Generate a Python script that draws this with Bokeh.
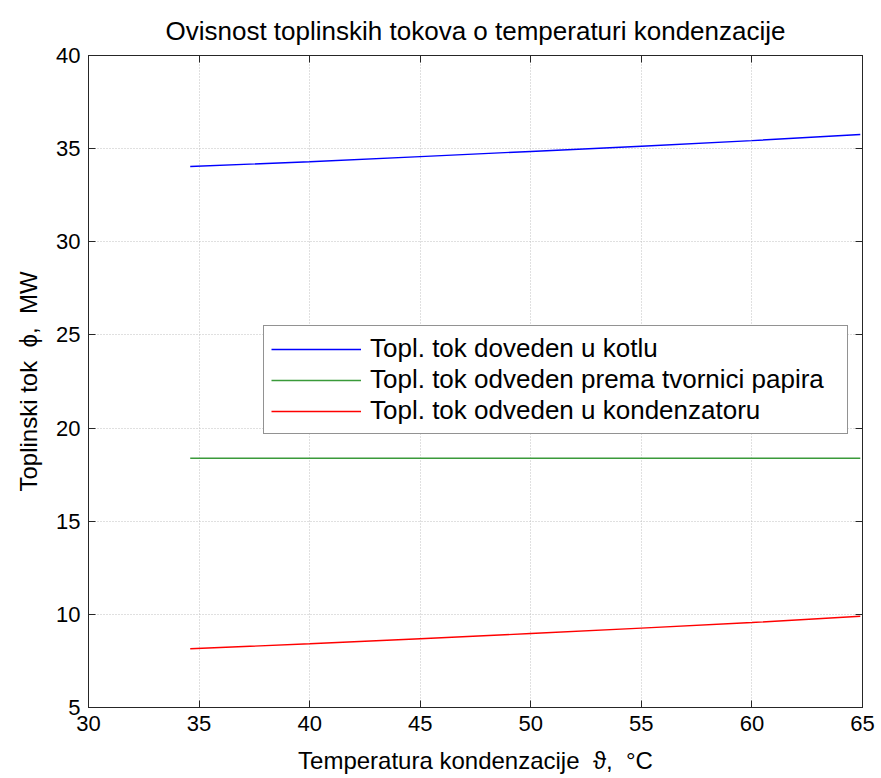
from bokeh.plotting import figure
from bokeh.models import FixedTicker, LinearAxis, Range1d, Legend, LegendItem
from bokeh.embed import file_html
from bokeh.resources import INLINE

# Data
temp = [34.6, 40, 45, 50, 55, 60, 64.9]
dovedeno_kotao = [34.04, 34.30, 34.57, 34.85, 35.13, 35.43, 35.76]
odvedeno_papir = [18.38, 18.38, 18.38, 18.38, 18.38, 18.38, 18.38]
odvedeno_kondenzator = [8.15, 8.42, 8.69, 8.97, 9.26, 9.56, 9.90]

x_ticks = [30, 35, 40, 45, 50, 55, 60, 65]
y_ticks = [5, 10, 15, 20, 25, 30, 35, 40]

title = "Ovisnost toplinskih tokova o temperaturi kondenzacije"
x_label = "Temperatura kondenzacije\u00a0\u00a0\u03d1,\u00a0\u00a0\u00b0C"
y_label = "Toplinski tok\u00a0\u00a0\u03d5,\u00a0\u00a0MW"
labels = ["Topl. tok doveden u kotlu",
          "Topl. tok odveden prema tvornici papira",
          "Topl. tok odveden u kondenzatoru"]
colors = ["#0000ff", "#3a9a3a", "#ff0000"]

FONT = "Liberation Sans"
AXC = "#262626"

p = figure(width=878, height=778, output_backend="svg", toolbar_location=None,
           x_range=Range1d(30, 65), y_range=Range1d(5, 40),
           min_border_left=88, min_border_right=16, min_border_top=55, min_border_bottom=71)

p.title.text = title
p.title.align = "center"
p.title.text_font = FONT
p.title.text_font_size = "26px"
p.title.text_font_style = "normal"
p.title.text_color = "black"
p.title.text_line_height = 1.0
p.title.offset = 0
p.title.standoff = 20

p.outline_line_color = AXC
p.outline_line_width = 1
p.background_fill_color = "white"
p.border_fill_color = "white"

for ax in (p.xaxis[0], p.yaxis[0]):
    ax.major_label_text_font = FONT
    ax.major_label_text_font_size = "22px"
    ax.major_label_text_color = "black"
    ax.axis_label_text_font = FONT
    ax.axis_label_text_font_size = "24px"
    ax.axis_label_text_font_style = "normal"
    ax.axis_label_text_color = "black"
    ax.axis_line_color = AXC
    ax.major_tick_in = 7
    ax.major_tick_out = 0
    ax.major_tick_line_color = AXC
    ax.minor_tick_line_color = None

p.xaxis[0].ticker = FixedTicker(ticks=x_ticks)
p.yaxis[0].ticker = FixedTicker(ticks=y_ticks)
p.xaxis[0].axis_label = x_label
p.yaxis[0].axis_label = y_label
p.xaxis[0].major_label_standoff = 8
p.yaxis[0].major_label_standoff = 8
p.xaxis[0].axis_label_standoff = 13
p.yaxis[0].axis_label_standoff = 11

for loc, ticks in (("right", y_ticks), ("above", x_ticks)):
    a = LinearAxis(ticker=FixedTicker(ticks=ticks))
    a.major_label_text_font_size = "0px"
    a.major_label_text_color = None
    a.major_tick_in = 7
    a.major_tick_out = 0
    a.major_tick_line_color = AXC
    a.minor_tick_line_color = None
    a.axis_line_color = AXC
    a.major_label_standoff = 0
    p.add_layout(a, loc)

p.xgrid.ticker = FixedTicker(ticks=x_ticks)
p.ygrid.ticker = FixedTicker(ticks=y_ticks)
for g in (p.xgrid[0], p.ygrid[0]):
    g.grid_line_color = "#c0c0c0"
    g.grid_line_dash = "1 2"
    g.grid_line_width = 1

r1 = p.line(temp, dovedeno_kotao, line_color=colors[0], line_width=1.4)
r2 = p.line(temp, odvedeno_papir, line_color=colors[1], line_width=1.4)
r3 = p.line(temp, odvedeno_kondenzator, line_color=colors[2], line_width=1.4)

legend = Legend(items=[LegendItem(label=labels[0], renderers=[r1]),
                       LegendItem(label=labels[1], renderers=[r2]),
                       LegendItem(label=labels[2], renderers=[r3])],
                location=(175, 273))
legend.label_text_font = FONT
legend.label_text_font_size = "26px"
legend.label_text_color = "black"
legend.glyph_width = 90
legend.glyph_height = 28
legend.label_height = 28
legend.label_width = 470
legend.spacing = 0
legend.label_standoff = 9
legend.padding = 7
legend.margin = 0
legend.border_line_color = AXC
legend.border_line_width = 1.3
legend.background_fill_alpha = 1
p.add_layout(legend, "center")

open("out.html", "w").write(file_html(p, INLINE))
